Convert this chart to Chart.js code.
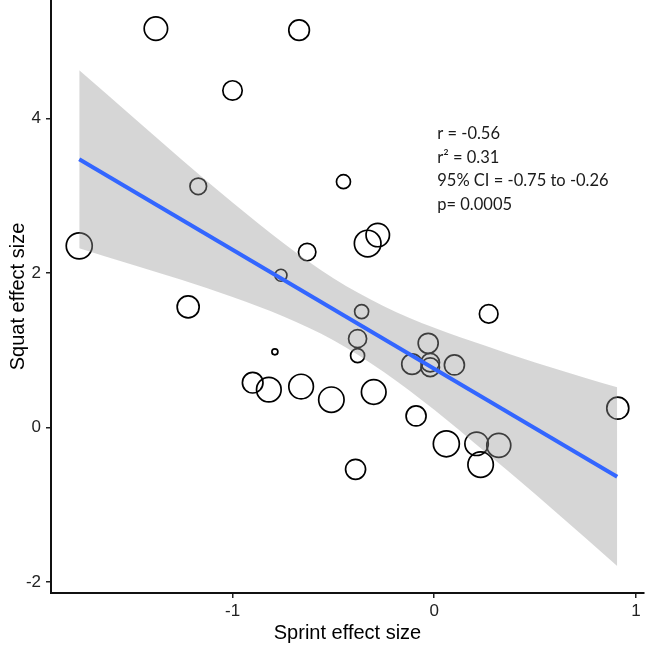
<!DOCTYPE html>
<html>
<head>
<meta charset="utf-8">
<title>Sprint vs Squat effect size</title>
<script src="https://cdn.jsdelivr.net/npm/chart.js@4.4.1/dist/chart.umd.min.js"></script>
<style>
  html, body { margin: 0; padding: 0; background: #fff; }
  #wrap { width: 645px; height: 645px; position: relative; }
</style>
</head>
<body>
<div id="wrap"><canvas id="myChart"></canvas></div>
<script>
// effect sizes per study
const sprintES = [-1.38, -0.67, -1.00, -1.17, -0.45, -1.76, -0.63, -0.76, -1.22, -0.79,
                  -0.90, -0.82, -0.66, -0.51, -0.33, -0.28, -0.36, 0.27, -0.38, -0.38,
                  -0.03, -0.11, -0.02, -0.02, 0.10, -0.30, -0.09, 0.06, 0.21, 0.32,
                  0.23, -0.39, 0.91];
const squatES  = [5.16, 5.14, 4.36, 3.12, 3.18, 2.35, 2.27, 1.97, 1.56, 0.98,
                  0.58, 0.49, 0.53, 0.36, 2.38, 2.49, 1.50, 1.47, 1.15, 0.93,
                  1.09, 0.82, 0.84, 0.78, 0.81, 0.46, 0.15, -0.21, -0.21, -0.23,
                  -0.48, -0.54, 0.25];
// study weight (bubble size)
const weights  = [11.7, 10.3, 9.7, 8.3, 7, 13, 8.7, 6, 11, 3,
                  10.3, 12.3, 12.3, 12.7, 13.3, 11.7, 7, 9.3, 9, 7,
                  10, 10.3, 9.3, 9.3, 10, 12.3, 10, 13, 11.7, 12,
                  12.7, 10, 11];

// fitted line and 95% band
const fitX   = [-1.76, 0.907];
const fitY   = [3.47, -0.637];
const bandX  = [-1.76, -1.5, -1.25, -1.0, -0.75, -0.5, -0.25, 0, 0.25, 0.5, 0.75, 0.907];
const bandHi = [4.62, 4.03, 3.46, 2.91, 2.39, 1.93, 1.57, 1.29, 1.06, 0.84, 0.64, 0.52];
const bandLo = [2.32, 2.11, 1.91, 1.69, 1.44, 1.13, 0.72, 0.23, -0.31, -0.86, -1.43, -1.79];

const xTicks = [-1, 0, 1];
const yTicks = [-2, 0, 2, 4];

const statLines = ['r = -0.56', 'r\u00B2 = 0.31', '95% CI = -0.75 to -0.26', 'p= 0.0005'];

const zip = (xs, ys) => xs.map((x, i) => ({ x: x, y: ys[i] }));

// stats text, top right
const statsText = {
  id: 'statsText',
  afterDraw(chart) {
    const ctx = chart.ctx;
    const xs = chart.scales.x, ys = chart.scales.y;
    const x0 = xs.getPixelForValue(0.015);
    const y0 = ys.getPixelForValue(3.8);
    ctx.save();
    ctx.fillStyle = '#1a1a1a';
    ctx.font = '16.5px Lato';
    ctx.textBaseline = 'middle';
    statLines.forEach((t, i) => ctx.fillText(t, x0, y0 + i * 23.5));
    ctx.restore();
  }
};

const tickFont = { family: 'Liberation Sans', size: 17 };
const titleFont = { family: 'Liberation Sans', size: 20 };

const fixBox = (w, h) => (scale) => {
  if (w) scale.width = w;
  if (h) scale.height = h;
  scale.paddingTop = 0; scale.paddingBottom = 0;
  scale.paddingLeft = 0; scale.paddingRight = 0;
};

new Chart(document.getElementById('myChart'), {
  type: 'scatter',
  data: {
    datasets: [
      {
        type: 'line',
        data: zip(fitX, fitY),
        borderColor: '#3366FF',
        borderWidth: 4,
        pointRadius: 0,
        fill: false
      },
      {
        type: 'line',
        data: zip(bandX, bandHi),
        borderWidth: 0,
        pointRadius: 0,
        cubicInterpolationMode: 'monotone',
        backgroundColor: 'rgba(153,153,153,0.4)',
        fill: '+1'
      },
      {
        type: 'line',
        data: zip(bandX, bandLo),
        borderWidth: 0,
        pointRadius: 0,
        cubicInterpolationMode: 'monotone',
        fill: false
      },
      {
        type: 'bubble',
        data: sprintES.map((x, i) => ({ x: x, y: squatES[i], r: weights[i] })),
        backgroundColor: 'rgba(0,0,0,0)',
        borderColor: '#000',
        borderWidth: 1.7
      }
    ]
  },
  options: {
    responsive: true,
    maintainAspectRatio: false,
    animation: false,
    layout: { autoPadding: false, padding: { left: 0, top: 0, right: 1, bottom: 0 } },
    plugins: { legend: { display: false }, tooltip: { enabled: false } },
    scales: {
      x: {
        type: 'linear',
        min: -1.9,
        max: 1.04,
        afterFit: fixBox(null, 52),
        afterBuildTicks: (s) => { s.ticks = xTicks.map(v => ({ value: v })); },
        grid: { display: true, drawOnChartArea: false, drawTicks: true, tickLength: 5, color: '#222', lineWidth: 1.5 },
        border: { display: true, color: '#111', width: 2 },
        ticks: { font: tickFont, color: '#222', padding: 3, maxRotation: 0 },
        title: { display: true, text: 'Sprint effect size', font: titleFont, color: '#000', padding: { top: 0, bottom: 0 } }
      },
      y: {
        type: 'linear',
        min: -2.14,
        max: 5.53,
        afterFit: fixBox(51, null),
        afterBuildTicks: (s) => { s.ticks = yTicks.map(v => ({ value: v })); },
        grid: { display: true, drawOnChartArea: false, drawTicks: true, tickLength: 5, color: '#222', lineWidth: 1.5 },
        border: { display: true, color: '#111', width: 2 },
        ticks: { font: tickFont, color: '#222', padding: 5 },
        title: { display: true, text: 'Squat effect size', font: titleFont, color: '#000', padding: { top: 6, bottom: 0 } }
      }
    }
  },
  plugins: [statsText]
});
</script>
</body>
</html>
